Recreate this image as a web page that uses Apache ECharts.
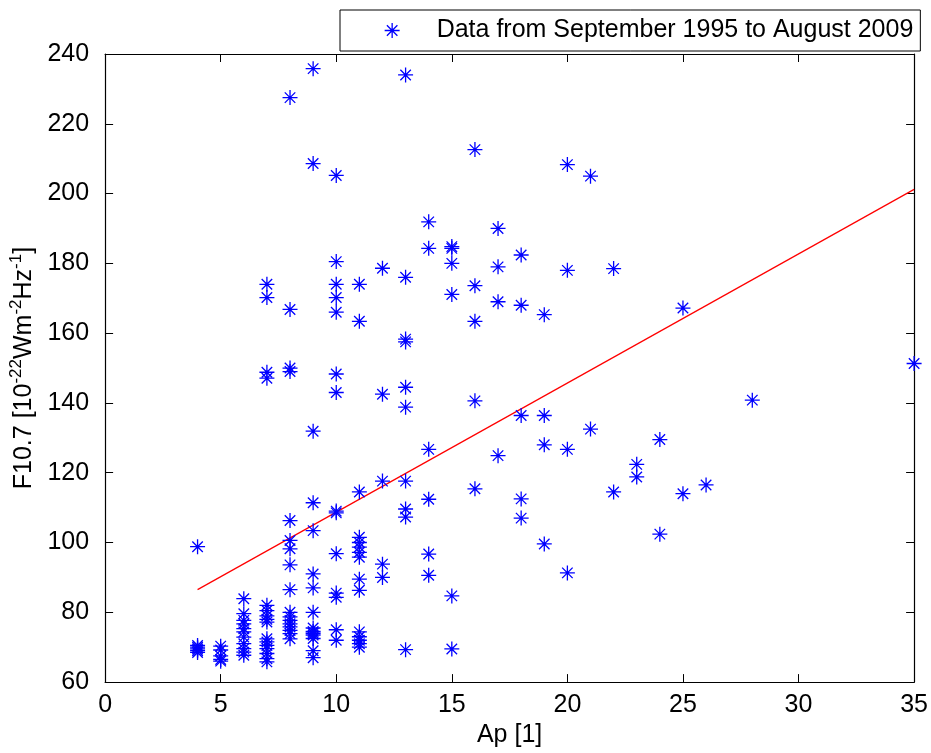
<!DOCTYPE html>
<html><head><meta charset="utf-8">
<script src="https://cdn.jsdelivr.net/npm/echarts@6/dist/echarts.min.js"></script>
<style>html,body{margin:0;padding:0;background:#fff}#c{width:931px;height:753px}</style>
</head><body><div id="c"></div>
<script>
// Ap index levels (x) and the F10.7 values observed at each level (y)
const apLevels = [4, 5, 6, 7, 8, 9, 10, 11, 12, 13, 14, 15, 16, 17, 18, 19, 20, 21, 22, 23, 24, 25, 26, 28, 35];
const f107ByAp = [
  [98.8, 70.5, 70, 69.5, 69, 68.5],
  [70.3, 69.2, 67.5, 66.5, 66],
  [83.9, 79.6, 77.7, 76.7, 75.3, 74.4, 72.9, 71, 69.6, 68.6, 67.7],
  [174, 170.2, 148.8, 147.1, 82, 80.5, 79, 78, 77.2, 72.4, 71.5, 70.5, 69.6, 68.2, 66.7, 65.8],
  [227.5, 166.8, 150, 149, 106.3, 100.6, 98.2, 93.6, 86.5, 80, 78.7, 77.7, 76.7, 75.8, 74.8, 73.9, 72.4],
  [235.8, 208.6, 131.9, 111.4, 103.4, 91, 87, 80, 75.5, 74.5, 74, 73.5, 72.5, 69, 67],
  [205.2, 180.5, 174, 170.2, 166, 148.3, 143, 109, 108.5, 96.8, 85.5, 84.3, 75, 72],
  [174, 163.4, 114.5, 101.5, 100, 98.7, 97.2, 95.8, 89.5, 86.3, 74.4, 73, 72, 71, 70],
  [178.6, 142.5, 117.6, 93.8, 90],
  [234, 176, 158.3, 157.5, 144.5, 138.8, 117.6, 109.6, 107.3, 69.3],
  [191.9, 184.3, 126.7, 112.4, 96.7, 90.6],
  [184.8, 184.3, 180, 171.1, 84.7, 69.5],
  [212.6, 173.6, 163.4, 140.6, 115.4],
  [190, 179, 169, 124.9],
  [182.4, 168, 136.4, 112.5, 107],
  [165.3, 136.4, 128, 99.6],
  [208.3, 178, 126.7, 91.3],
  [205, 132.5],
  [178.5, 114.5],
  [122.4, 118.8],
  [129.5, 102.4],
  [167.2, 114],
  [116.5],
  [140.8],
  [151.3]
];
// least-squares fit line endpoints (as drawn)
const fitAp = [4, 35];
const fitF107 = [86.5, 201.2];

const seriesName = 'Data from September 1995 to August 2009';
const xTitle = 'Ap [1]';

const scatterData = [];
apLevels.forEach((ap, i) => f107ByAp[i].forEach(v => scatterData.push([ap, v])));
const fitData = fitAp.map((a, i) => [a, fitF107[i]]);

const FONT = "'Liberation Sans', Arial, Helvetica, sans-serif";
const FS = 25;
const star = 'path://M0,-10L0,10M-10,0L10,0M-7,-7L7,7M-7,7L7,-7';
const tick = {show: true, inside: true, length: 8, lineStyle: {color: '#000', width: 1}};
const line = {show: true, onZero: false, lineStyle: {color: '#000', width: 1.2}};

const chart = echarts.init(document.getElementById('c'), null, {renderer: 'canvas'});
chart.setOption({
  backgroundColor: '#fff',
  animation: false,
  textStyle: {fontFamily: FONT},
  grid: {left: 104, right: 15, top: 54, bottom: 70},
  legend: {
    data: [seriesName],
    left: 340, top: 10,
    padding: [8, 7, 8, 44],
    borderColor: '#000', borderWidth: 1, backgroundColor: '#fff',
    itemWidth: 15, itemHeight: 15,
    icon: star,
    itemStyle: {color: 'rgba(0,0,0,0)', borderColor: '#0000ff', borderWidth: 1.3},
    textStyle: {fontSize: FS, color: '#000', fontFamily: FONT, padding: [0, 0, 0, 32]}
  },
  xAxis: [
    {type: 'value', position: 'bottom', min: 0, max: 35, interval: 5,
     axisLine: line, axisTick: tick, splitLine: {show: false},
     axisLabel: {fontSize: FS, color: '#000', margin: 11, fontFamily: FONT},
     name: xTitle, nameLocation: 'middle', nameGap: 40,
     nameTextStyle: {fontSize: FS, color: '#000', fontFamily: FONT}},
    {type: 'value', position: 'top', min: 0, max: 35, interval: 5,
     axisLine: line, axisTick: tick, splitLine: {show: false}, axisLabel: {show: false}}
  ],
  yAxis: [
    {type: 'value', position: 'left', min: 60, max: 240, interval: 20,
     axisLine: line, axisTick: tick, splitLine: {show: false},
     axisLabel: {fontSize: FS, color: '#000', margin: 16, fontFamily: FONT},
     name: '{t|F10.7 [10}{s|-22}{t|Wm}{s|-2}{t|Hz}{s|-1}{t|]}',
     nameLocation: 'middle', nameRotate: 90, nameGap: 56,
     nameTextStyle: {
       color: '#000', fontFamily: FONT,
       rich: {
         t: {fontSize: FS, lineHeight: 32, color: '#000', fontFamily: FONT},
         s: {fontSize: 17, lineHeight: 17, verticalAlign: 'top', color: '#000', fontFamily: FONT}
       }
     }},
    {type: 'value', position: 'right', min: 60, max: 240, interval: 20,
     axisLine: line, axisTick: tick, splitLine: {show: false}, axisLabel: {show: false}}
  ],
  series: [
    {name: seriesName, type: 'scatter', xAxisIndex: 0, yAxisIndex: 0,
     symbol: star, symbolSize: 15, data: scatterData,
     itemStyle: {color: 'rgba(0,0,0,0)', borderColor: '#0000ff', borderWidth: 1.3, opacity: 1},
     emphasis: {disabled: true}, clip: false, z: 3},
    {name: 'fit', type: 'line', xAxisIndex: 0, yAxisIndex: 0, data: fitData,
     symbol: 'none', lineStyle: {color: '#ff0000', width: 1.2}, z: 2}
  ]
});
</script></body></html>
